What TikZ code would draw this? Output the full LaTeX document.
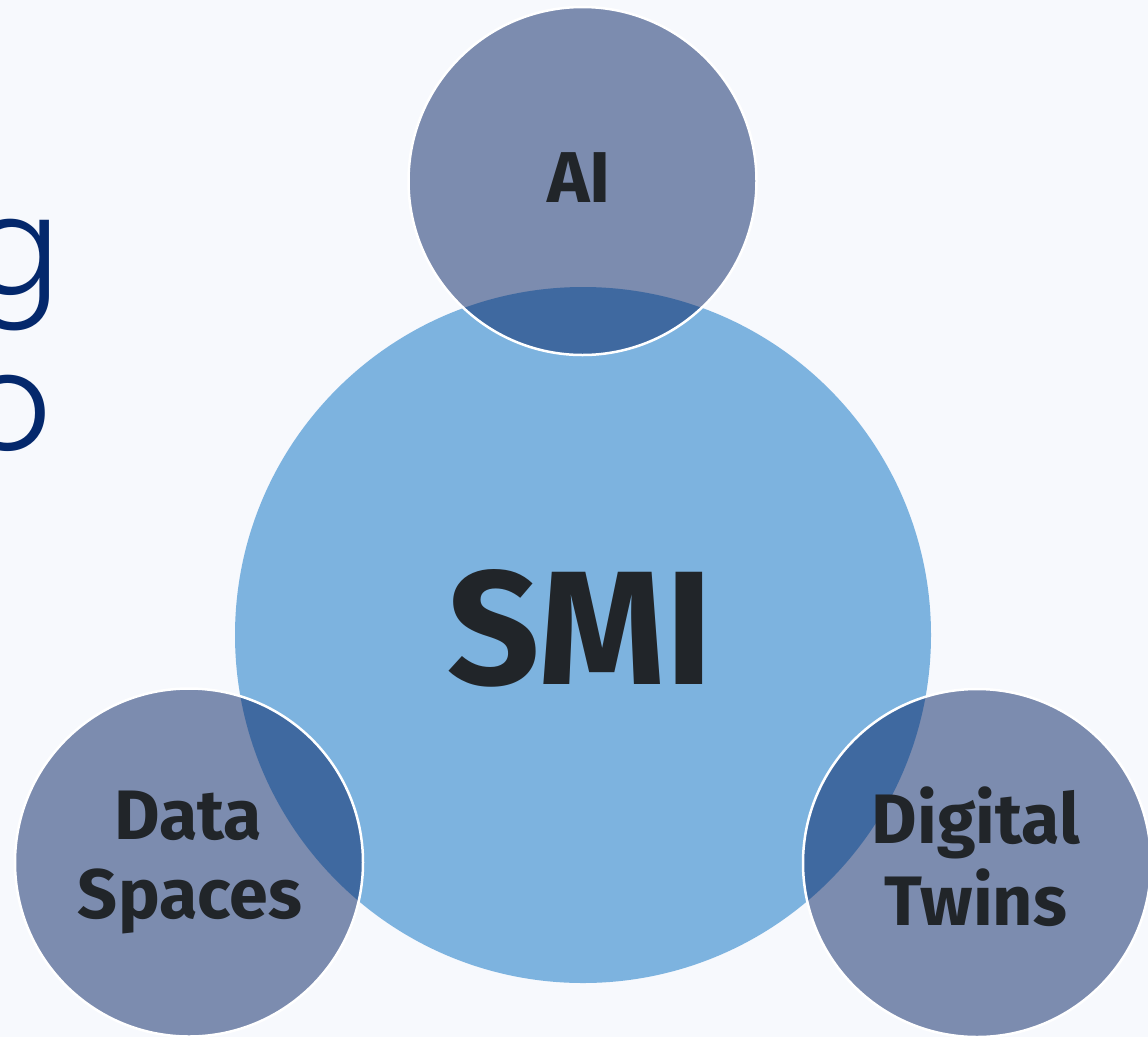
\documentclass[tikz,border=0pt]{standalone}
\usepackage{fontspec}
\setmainfont{Fira Sans}
\newfontfamily\leftfont{Poppins Light}
\definecolor{bgc}{RGB}{247,249,253}
\definecolor{bigc}{RGB}{125,179,223}
\definecolor{navyc}{RGB}{2,32,98}
\definecolor{txtc}{RGB}{33,37,41}
\definecolor{lefttxt}{RGB}{4,40,108}
\begin{document}
\begin{tikzpicture}[x=1pt,y=-1pt,
  smallc/.style={fill=navyc,fill opacity=0.5,draw=white,line width=2.5pt},
  lbl/.style={text=txtc,inner sep=0pt,anchor=base,font=\bfseries\fontsize{70}{80}\selectfont},
  lefttext/.style={text=lefttxt,inner sep=0pt,anchor=base east,font=\leftfont\fontsize{136}{136}\selectfont}]
\useasboundingbox (0,0) rectangle (1148,1037);
\fill[bgc] (0,0) rectangle (1148,1037);
\begin{scope}
\clip (0,0) rectangle (1148,1037);
\node[lefttext] (lg) at (61,294) {g};
\node[lefttext] (lo) at (52,450) {o};
\fill[bigc] (583,635) circle[radius=348];
\coordinate (smi) at (583,635);
\draw[smallc] (582.5,181) circle[radius=174];
\draw[smallc] (189,862.5) circle[radius=174];
\draw[smallc] (977,863) circle[radius=174];
\end{scope}
\node[lbl,font=\bfseries\fontsize{162}{162}\selectfont] (smit) at (580,684) {SMI};
\node[lbl,font=\bfseries\fontsize{72}{72}\selectfont] (ait) at (579,202) {AI};
\node[lbl] (data) at (188,839) {Data};
\node[lbl] (spaces) at (190,918) {Spaces};
\node[lbl] (digital) at (976,843) {Digital};
\node[lbl] (twins) at (976,925) {Twins};
\end{tikzpicture}
\end{document}
